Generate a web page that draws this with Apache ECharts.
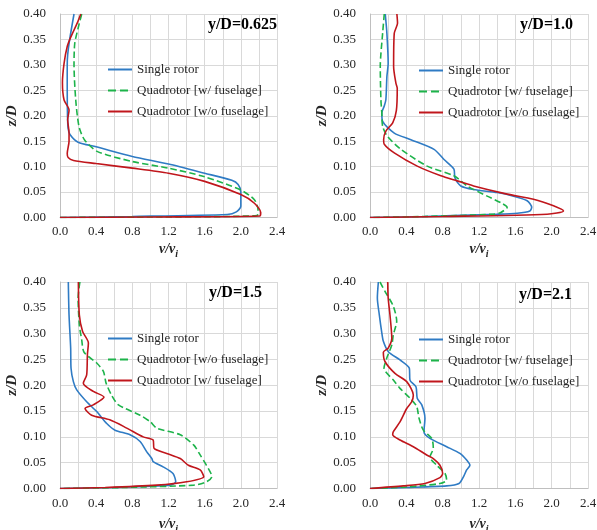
<!DOCTYPE html>
<html><head><meta charset="utf-8">
<script src="https://cdn.jsdelivr.net/npm/echarts@6/dist/echarts.min.js"></script>
<style>html,body{margin:0;padding:0;background:#fff}#c{width:597px;height:530px}</style>
</head><body><div id="c"></div>
<script>
// ---- Data: points are [v/vi, z/D] ----
const panelTitles = ['y/D=0.625', 'y/D=1.0', 'y/D=1.5', 'y/D=2.1'];
const xTicks = [0, 2.4, 0.4];
const yTicks = [0, 0.4, 0.05];

const p1Single = [[0.155,0.40],[0.107,0.35],[0.085,0.32],[0.08,0.30],[0.08,0.25],[0.083,0.20],[0.09,0.175],[0.11,0.163],[0.2,0.148],[0.4,0.139],[0.8,0.12],[1.2,0.105],[1.6,0.087],[1.9,0.073],[1.97,0.065],[2.0,0.05],[2.0,0.022],[1.95,0.011],[1.85,0.006],[0.8,0.002],[0,0]];
const p1QuadW = [[0.24,0.40],[0.2,0.372],[0.163,0.342],[0.155,0.30],[0.174,0.231],[0.21,0.179],[0.27,0.153],[0.41,0.13],[0.8,0.11],[1.2,0.097],[1.6,0.08],[2.0,0.054],[2.15,0.035],[2.19,0.015],[2.18,0.004],[1.0,0.001],[0,0]];
const p1QuadWo = [[0.23,0.40],[0.19,0.382],[0.12,0.355],[0.08,0.336],[0.045,0.303],[0.027,0.265],[0.045,0.231],[0.1,0.211],[0.085,0.192],[0.1,0.166],[0.1,0.15],[0.08,0.126],[0.09,0.118],[0.15,0.112],[0.4,0.106],[0.8,0.097],[1.2,0.087],[1.6,0.071],[2.0,0.045],[2.15,0.028],[2.22,0.01],[2.21,0.003],[1.0,0.001],[0,0]];

const p2Single = [[0.168,0.40],[0.186,0.362],[0.2,0.303],[0.186,0.277],[0.175,0.232],[0.157,0.219],[0.13,0.206],[0.139,0.189],[0.267,0.166],[0.45,0.153],[0.705,0.134],[0.815,0.114],[0.924,0.095],[0.935,0.078],[1.0,0.062],[1.14,0.055],[1.4,0.049],[1.58,0.042],[1.73,0.033],[1.78,0.02],[1.76,0.013],[1.62,0.0085],[1.4,0.0065],[0.6,0.002],[0,0]];
const p2QuadW = [[0.157,0.40],[0.139,0.362],[0.113,0.297],[0.12,0.232],[0.13,0.206],[0.139,0.179],[0.19,0.16],[0.34,0.134],[0.63,0.101],[0.924,0.082],[1.07,0.062],[1.29,0.042],[1.44,0.029],[1.51,0.02],[1.44,0.01],[1.36,0.0065],[0.6,0.002],[0,0]];
const p2QuadWo = [[0.296,0.40],[0.303,0.382],[0.267,0.362],[0.26,0.297],[0.285,0.264],[0.3,0.254],[0.29,0.21],[0.25,0.186],[0.175,0.17],[0.15,0.153],[0.157,0.144],[0.267,0.127],[0.52,0.101],[0.78,0.082],[0.96,0.072],[1.14,0.062],[1.51,0.046],[1.8,0.036],[2.02,0.023],[2.13,0.013],[1.95,0.0065],[0.8,0.002],[0,0]];

const p3Single = [[0.092,0.40],[0.1,0.336],[0.118,0.272],[0.122,0.233],[0.148,0.207],[0.185,0.191],[0.295,0.168],[0.406,0.149],[0.517,0.126],[0.609,0.113],[0.775,0.104],[0.886,0.091],[0.96,0.071],[1.015,0.058],[1.03,0.052],[1.14,0.042],[1.25,0.029],[1.28,0.013],[1.22,0.0065],[0.6,0.002],[0,0]];
const p3QuadWo = [[0.22,0.40],[0.2,0.369],[0.214,0.317],[0.24,0.288],[0.266,0.264],[0.406,0.243],[0.48,0.227],[0.51,0.204],[0.57,0.181],[0.646,0.162],[0.886,0.142],[1.0,0.129],[1.07,0.117],[1.33,0.104],[1.48,0.084],[1.55,0.065],[1.62,0.045],[1.68,0.023],[1.62,0.013],[1.48,0.0065],[0.7,0.002],[0,0]];
const p3QuadW = [[0.203,0.40],[0.214,0.336],[0.25,0.304],[0.314,0.282],[0.303,0.259],[0.295,0.22],[0.258,0.204],[0.369,0.188],[0.487,0.177],[0.369,0.162],[0.277,0.155],[0.35,0.142],[0.55,0.133],[0.738,0.117],[0.92,0.1],[1.03,0.094],[1.04,0.078],[1.18,0.068],[1.33,0.058],[1.42,0.045],[1.55,0.036],[1.59,0.023],[1.40,0.013],[1.07,0.0065],[0.5,0.002],[0,0]];

const p4Single = [[0.092,0.40],[0.081,0.369],[0.103,0.336],[0.128,0.304],[0.147,0.285],[0.202,0.265],[0.33,0.249],[0.433,0.233],[0.44,0.21],[0.506,0.197],[0.52,0.175],[0.57,0.162],[0.605,0.136],[0.594,0.11],[0.66,0.097],[0.844,0.081],[0.99,0.068],[1.064,0.055],[1.1,0.045],[1.064,0.036],[1.03,0.023],[0.98,0.0097],[0.844,0.005],[0.4,0.002],[0,0]];
const p4QuadW = [[0.11,0.40],[0.165,0.382],[0.257,0.353],[0.294,0.324],[0.257,0.298],[0.24,0.278],[0.183,0.252],[0.154,0.233],[0.257,0.21],[0.33,0.194],[0.44,0.175],[0.514,0.159],[0.54,0.136],[0.587,0.113],[0.68,0.097],[0.697,0.078],[0.66,0.061],[0.734,0.045],[0.826,0.029],[0.844,0.016],[0.77,0.0097],[0.4,0.003],[0,0]];
const p4QuadWo = [[0.195,0.40],[0.2,0.369],[0.22,0.336],[0.24,0.291],[0.2,0.272],[0.147,0.264],[0.165,0.246],[0.275,0.223],[0.404,0.207],[0.477,0.181],[0.459,0.168],[0.404,0.155],[0.33,0.129],[0.257,0.11],[0.25,0.104],[0.33,0.094],[0.477,0.081],[0.624,0.065],[0.697,0.058],[0.77,0.045],[0.8,0.029],[0.77,0.021],[0.605,0.0097],[0.367,0.005],[0,0]];

const nameSingle = 'Single rotor';
const nameW = 'Quadrotor [w/ fuselage]';
const nameWo = 'Quadrotor [w/o fuselage]';

// ---- Layout / styles ----
const BLUE = '#2F7BC4', GREEN = '#1DB34A', RED = '#C0161C';
const TXT = '#262626';
const FONT = '"Liberation Serif", "Times New Roman", serif';
const grids = [
  {left: 60, top: 14, width: 217, height: 203.5, outerBoundsMode: 'none', containLabel: false},
  {left: 370, top: 14, width: 218, height: 203.5, outerBoundsMode: 'none', containLabel: false},
  {left: 60, top: 282, width: 217, height: 206.5, outerBoundsMode: 'none', containLabel: false},
  {left: 370, top: 282, width: 218, height: 206.5, outerBoundsMode: 'none', containLabel: false}
];
const panels = [
  [[nameSingle, p1Single, BLUE, 'solid'], [nameW, p1QuadW, GREEN, 'dashed'], [nameWo, p1QuadWo, RED, 'solid']],
  [[nameSingle, p2Single, BLUE, 'solid'], [nameW, p2QuadW, GREEN, 'dashed'], [nameWo, p2QuadWo, RED, 'solid']],
  [[nameSingle, p3Single, BLUE, 'solid'], [nameWo, p3QuadWo, GREEN, 'dashed'], [nameW, p3QuadW, RED, 'solid']],
  [[nameSingle, p4Single, BLUE, 'solid'], [nameW, p4QuadW, GREEN, 'dashed'], [nameWo, p4QuadWo, RED, 'solid']]
];
const titlePos = [{right: 320, top: 17}, {right: 24, top: 17}, {right: 335, top: 285}, {right: 25, top: 287}];
const legendPos = [{left: 107, top: 63}, {left: 418, top: 64}, {left: 107, top: 332}, {left: 418, top: 333}];
const xNameGap = [25, 25, 29, 29];
const xLabelMargin = [8, 8, 9, 9];

const xAxes = [], yAxes = [], series = [], legends = [], titles = [];
grids.forEach((g, i) => {
  xAxes.push({
    type: 'value', gridIndex: i, min: xTicks[0], max: xTicks[1], interval: xTicks[2],
    axisLine: {show: true, lineStyle: {color: '#bfbfbf'}},
    axisTick: {show: false},
    splitLine: {show: true, lineStyle: {color: '#d9d9d9', width: 1}},
    minorTick: {show: false, splitNumber: 2},
    minorSplitLine: {show: true, lineStyle: {color: '#d9d9d9', width: 1}},
    axisLabel: {formatter: v => v.toFixed(1), color: TXT, fontFamily: FONT, fontSize: 13, margin: xLabelMargin[i]},
    name: '{a|v/v}{b|i}', nameLocation: 'middle', nameGap: xNameGap[i],
    nameTextStyle: {
      rich: {
        a: {fontFamily: FONT, fontSize: 14, fontWeight: 'bold', fontStyle: 'italic', color: TXT, lineHeight: 16, verticalAlign: 'top'},
        b: {fontFamily: FONT, fontSize: 10, fontWeight: 'bold', fontStyle: 'italic', color: TXT, verticalAlign: 'top', padding: [7, 0, 0, 0]}
      }
    }
  });
  yAxes.push({
    type: 'value', gridIndex: i, min: yTicks[0], max: yTicks[1], interval: yTicks[2],
    axisLine: {show: true, lineStyle: {color: '#bfbfbf'}},
    axisTick: {show: false},
    splitLine: {show: true, lineStyle: {color: '#d9d9d9', width: 1}},
    axisLabel: {formatter: v => v.toFixed(2), color: TXT, fontFamily: FONT, fontSize: 13, margin: 14},
    name: 'z/D', nameLocation: 'middle', nameGap: 40,
    nameTextStyle: {fontFamily: FONT, fontSize: 15, fontWeight: 'bold', fontStyle: 'italic', color: TXT}
  });
  const names = [];
  panels[i].forEach((s, k) => {
    const nm = s[0] + '|' + (i + 1);
    names.push(nm);
    series.push({
      type: 'line', name: nm, xAxisIndex: i, yAxisIndex: i, data: s[1],
      showSymbol: false, symbol: 'none', smooth: 0.25, z: 2 + k,
      lineStyle: {color: s[2], width: 1.6, type: s[3]},
      itemStyle: {color: s[2]},
      emphasis: {disabled: true}, animation: false
    });
  });
  legends.push(Object.assign({
    orient: 'vertical', data: names, itemWidth: 24, itemHeight: 14, itemGap: 8, padding: 0,
    formatter: n => n.split('|')[0], selectedMode: false,
    itemStyle: {opacity: 0, borderWidth: 0},
    textStyle: {fontFamily: FONT, fontSize: 13, color: TXT}
  }, legendPos[i]));
  titles.push(Object.assign({
    text: panelTitles[i],
    textStyle: {fontFamily: FONT, fontSize: 16, fontWeight: 'bold', color: '#000'}, padding: 0
  }, titlePos[i]));
});

const chart = echarts.init(document.getElementById('c'), null, {renderer: 'canvas'});
chart.setOption({
  animation: false, backgroundColor: '#fff',
  title: titles, legend: legends, grid: grids, xAxis: xAxes, yAxis: yAxes, series: series
});
</script></body></html>
